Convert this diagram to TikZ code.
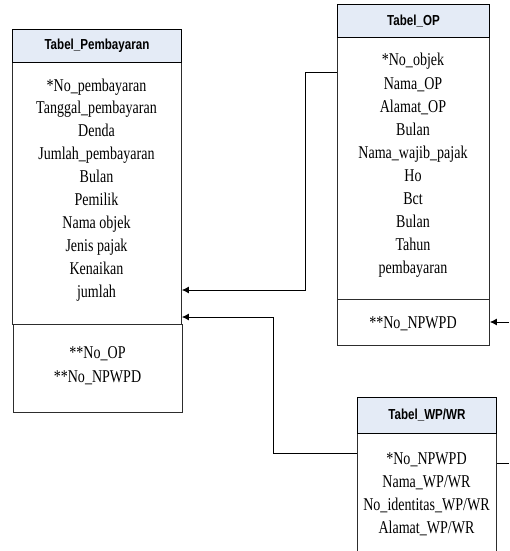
\documentclass[tikz,border=0pt]{standalone}
\usepackage{fontspec}
\usetikzlibrary{arrows.meta}
\newfontfamily\attrfont[FakeStretch=0.78]{Liberation Serif}
\newfontfamily\hdrfont[FakeStretch=0.8]{Liberation Sans}
\definecolor{hdrfill}{RGB}{228,235,246}
\definecolor{edge}{RGB}{45,45,45}
\tikzset{
  tblhead/.style={draw=black, line width=0.9pt, fill=hdrfill, rectangle, inner sep=0pt,
    anchor=north west, font=\hdrfont\bfseries\fontsize{14.5pt}{16pt}\selectfont},
  tblbody/.style={draw=edge, line width=0.9pt, rectangle, inner sep=0pt, anchor=north west},
  attr/.style={anchor=base, inner sep=0pt, font=\attrfont\fontsize{18pt}{20pt}\selectfont},
  link/.style={draw=black, line width=0.9pt},
  linkarrow/.style={link, -{Latex[length=7pt,width=7pt]}}
}
\begin{document}
\begin{tikzpicture}[x=1pt, y=-1pt]
\useasboundingbox (0,0) rectangle (509,551);
\clip (0,0) rectangle (509,551);

% ---- Tabel_Pembayaran ----
\node[tblbody, minimum width=169pt, minimum height=262pt] (pbb) at (12,62) {};
\node[tblbody, minimum width=169pt, minimum height=88pt] (pbk) at (13,324) {};
\node[tblhead, minimum width=169pt, minimum height=33pt] (pbh) at (12,29) {Tabel\_Pembayaran};
\foreach \t [count=\i] in {*No\_pembayaran, Tanggal\_pembayaran, Denda, Jumlah\_pembayaran,
    Bulan, Pemilik, Nama objek, Jenis pajak, Kenaikan, jumlah}
  \node[attr] (pb-\i) at (96.5, {91+22.9*(\i-1)}) {\t};
\node[attr] (pbk-1) at (97.5, 358) {**No\_OP};
\node[attr] (pbk-2) at (97.5, 382) {**No\_NPWPD};

% ---- Tabel_OP ----
\node[tblbody, minimum width=152pt, minimum height=262pt] (opb) at (337,37) {};
\node[tblbody, minimum width=152pt, minimum height=46pt] (opk) at (337,299) {};
\node[tblhead, minimum width=152pt, minimum height=33pt] (oph) at (337,4) {Tabel\_OP};
\foreach \t [count=\i] in {*No\_objek, Nama\_OP, Alamat\_OP, Bulan, Nama\_wajib\_pajak,
    Ho, Bct, Bulan, Tahun, pembayaran}
  \node[attr] (op-\i) at (413, {66+23.1*(\i-1)}) {\t};
\node[attr] (opk-1) at (413, 328) {**No\_NPWPD};

% ---- Tabel_WP/WR ----
\node[tblbody, minimum width=139pt, minimum height=140pt] (wpb) at (357,433) {};
\node[tblhead, minimum width=139pt, minimum height=36pt] (wph) at (357,397) {Tabel\_WP/WR};
\foreach \t [count=\i] in {*No\_NPWPD, Nama\_WP/WR, No\_identitas\_WP/WR, Alamat\_WP/WR}
  \node[attr] (wp-\i) at (426.5, {464+23*(\i-1)}) {\t};

% ---- relations ----
\coordinate (opin) at (509,322);
\coordinate (wpout) at (509,463);
\draw[linkarrow] (opb.west |- 0,72) -- (305,72) -- (305,290) -- (pbb.east |- 0,290);
\draw[linkarrow] (wpb.west |- 0,453) -- (273,453) -- (273,317) -- (pbb.east |- 0,317);
\draw[linkarrow] (opin) -- (opk.east |- opin);
\draw[link] (wpb.east |- wpout) -- (wpout);
\end{tikzpicture}
\end{document}
